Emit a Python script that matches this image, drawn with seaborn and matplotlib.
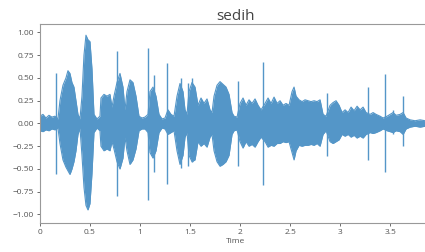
import matplotlib
matplotlib.use("Agg")
import matplotlib.pyplot as plt
import pandas as pd
import seaborn as sns

# Envelope of the waveform body (seconds, upper, lower)
times = [
    0.00, 0.03, 0.06, 0.09, 0.12, 0.15, 0.18, 0.20, 0.23, 0.26, 0.28, 0.30,
    0.32, 0.34, 0.36, 0.38, 0.40, 0.42, 0.44, 0.46, 0.48, 0.50, 0.52, 0.54,
    0.57, 0.60, 0.61, 0.64, 0.67, 0.70, 0.72, 0.74, 0.77, 0.80, 0.83, 0.85,
    0.87, 0.90, 0.93, 0.96, 0.99, 1.02, 1.05, 1.08, 1.10, 1.13, 1.16, 1.19,
    1.22, 1.25, 1.28, 1.31, 1.34, 1.37, 1.40, 1.43, 1.45, 1.47, 1.49, 1.52,
    1.55, 1.58, 1.61, 1.64, 1.67, 1.70, 1.72, 1.74, 1.77, 1.80, 1.83, 1.86,
    1.89, 1.92, 1.94, 1.97, 2.00, 2.03, 2.06, 2.09, 2.12, 2.15, 2.18, 2.21,
    2.25, 2.28, 2.31, 2.34, 2.37, 2.40, 2.43, 2.46, 2.49, 2.52, 2.54, 2.56,
    2.59, 2.62, 2.65, 2.68, 2.71, 2.74, 2.77, 2.80, 2.83, 2.86, 2.90, 2.93,
    2.96, 2.99, 3.02, 3.05, 3.08, 3.11, 3.14, 3.17, 3.20, 3.23, 3.26, 3.30,
    3.33, 3.36, 3.40, 3.43, 3.47, 3.50, 3.53, 3.56, 3.60, 3.63, 3.66, 3.70,
    3.75, 3.80, 3.85, 3.90,
]
upper = [
    0.08, 0.10, 0.06, 0.09, 0.07, 0.08, 0.05, 0.25, 0.42, 0.50, 0.58, 0.55,
    0.45, 0.40, 0.25, 0.10, 0.05, 0.30, 0.75, 0.97, 0.92, 0.90, 0.60, 0.10,
    0.05, 0.08, 0.28, 0.32, 0.30, 0.32, 0.18, 0.30, 0.45, 0.55, 0.40, 0.15,
    0.35, 0.48, 0.45, 0.30, 0.08, 0.06, 0.07, 0.10, 0.35, 0.40, 0.30, 0.10,
    0.05, 0.06, 0.15, 0.10, 0.08, 0.30, 0.44, 0.35, 0.15, 0.10, 0.35, 0.45,
    0.40, 0.20, 0.28, 0.22, 0.27, 0.15, 0.12, 0.30, 0.42, 0.46, 0.43, 0.40,
    0.32, 0.12, 0.08, 0.07, 0.22, 0.28, 0.20, 0.26, 0.22, 0.27, 0.20, 0.15,
    0.22, 0.28, 0.22, 0.29, 0.22, 0.25, 0.20, 0.22, 0.20, 0.35, 0.40, 0.30,
    0.26, 0.24, 0.26, 0.25, 0.24, 0.25, 0.24, 0.26, 0.10, 0.08, 0.20, 0.23,
    0.25, 0.20, 0.12, 0.15, 0.12, 0.18, 0.14, 0.19, 0.15, 0.18, 0.12, 0.10,
    0.12, 0.10, 0.08, 0.06, 0.08, 0.10, 0.12, 0.09, 0.10, 0.12, 0.06, 0.04,
    0.03, 0.04, 0.03, 0.02,
]
lower = [
    -0.08, -0.09, -0.07, -0.08, -0.06, -0.07, -0.05, -0.22, -0.40, -0.48, -0.52, -0.56,
    -0.50, -0.42, -0.30, -0.12, -0.05, -0.35, -0.70, -0.90, -0.95, -0.88, -0.55, -0.10,
    -0.05, -0.08, -0.25, -0.30, -0.28, -0.30, -0.20, -0.28, -0.42, -0.50, -0.38, -0.15,
    -0.30, -0.45, -0.40, -0.28, -0.08, -0.06, -0.06, -0.10, -0.32, -0.38, -0.30, -0.10,
    -0.05, -0.06, -0.12, -0.10, -0.08, -0.30, -0.45, -0.35, -0.15, -0.10, -0.35, -0.42,
    -0.40, -0.20, -0.25, -0.22, -0.26, -0.15, -0.12, -0.30, -0.42, -0.47, -0.45, -0.42,
    -0.35, -0.12, -0.08, -0.07, -0.20, -0.27, -0.20, -0.25, -0.23, -0.26, -0.20, -0.15,
    -0.20, -0.26, -0.24, -0.25, -0.22, -0.22, -0.20, -0.21, -0.20, -0.32, -0.40, -0.30,
    -0.24, -0.25, -0.24, -0.24, -0.23, -0.24, -0.22, -0.25, -0.12, -0.08, -0.20, -0.22,
    -0.20, -0.18, -0.12, -0.14, -0.12, -0.15, -0.13, -0.16, -0.14, -0.16, -0.12, -0.10,
    -0.11, -0.10, -0.08, -0.06, -0.08, -0.09, -0.10, -0.08, -0.09, -0.12, -0.06, -0.04,
    -0.03, -0.04, -0.03, -0.02,
]

# Isolated clicks that stick out of the envelope
spike_times = [0.157, 0.77, 1.08, 1.14, 1.27, 1.41, 1.48, 1.52, 1.98, 2.23,
               2.87, 3.28, 3.45, 3.53, 3.63]
spike_top = [0.55, 0.80, 0.83, 0.53, 0.66, 0.50, 0.45, 0.50, 0.47, 0.68,
             0.33, 0.40, 0.54, 0.15, 0.30]
spike_bottom = [-0.55, -0.80, -0.84, -0.53, -0.66, -0.49, -0.47, -0.42, -0.47, -0.68,
                -0.36, -0.40, -0.53, -0.12, -0.25]

x_ticks = [0, 0.5, 1, 1.5, 2, 2.5, 3, 3.5]
x_labels = ["0", "0.5", "1", "1.5", "2", "2.5", "3", "3.5"]
y_ticks = [-1.0, -0.75, -0.5, -0.25, 0.0, 0.25, 0.5, 0.75, 1.0]

wave_color = "#5496c8"

sns.set_theme(style="white")
plt.rcParams["font.family"] = ["Open Sans", "DejaVu Sans"]

env = pd.DataFrame({"t": times, "upper": upper, "lower": lower})

fig = plt.figure(figsize=(4.25, 2.52), dpi=100)
ax = fig.add_axes([0.094, 0.115, 0.918, 0.79])

ax.fill_between(env["t"], env["lower"], env["upper"], color=wave_color, linewidth=0)
sns.lineplot(data=env, x="t", y="upper", ax=ax, color=wave_color, linewidth=0.8)
sns.lineplot(data=env, x="t", y="lower", ax=ax, color=wave_color, linewidth=0.8)
ax.vlines(spike_times, spike_bottom, spike_top, color=wave_color, linewidth=1.0)

ax.set_xlim(0, 3.9)
ax.set_ylim(-1.094, 1.094)
ax.set_xticks(x_ticks)
ax.set_xticklabels(x_labels)
ax.set_yticks(y_ticks)
ax.set_yticklabels([f"{v:.2f}".replace("-", "\u2212") for v in y_ticks])
ax.tick_params(axis="both", labelsize=6, colors="#555555", length=2.5, width=0.6,
               direction="out", bottom=True, left=True, pad=2)
ax.set_xlabel("Time", fontsize=6, color="#555555", labelpad=1)
ax.set_ylabel("")
ax.set_title("sedih", fontsize=11, color="#444444", pad=3)

for side in ["left", "bottom", "top"]:
    ax.spines[side].set_color("#999999")
    ax.spines[side].set_linewidth(0.8)
ax.spines["right"].set_visible(False)

fig.savefig("out.png", dpi=100)
